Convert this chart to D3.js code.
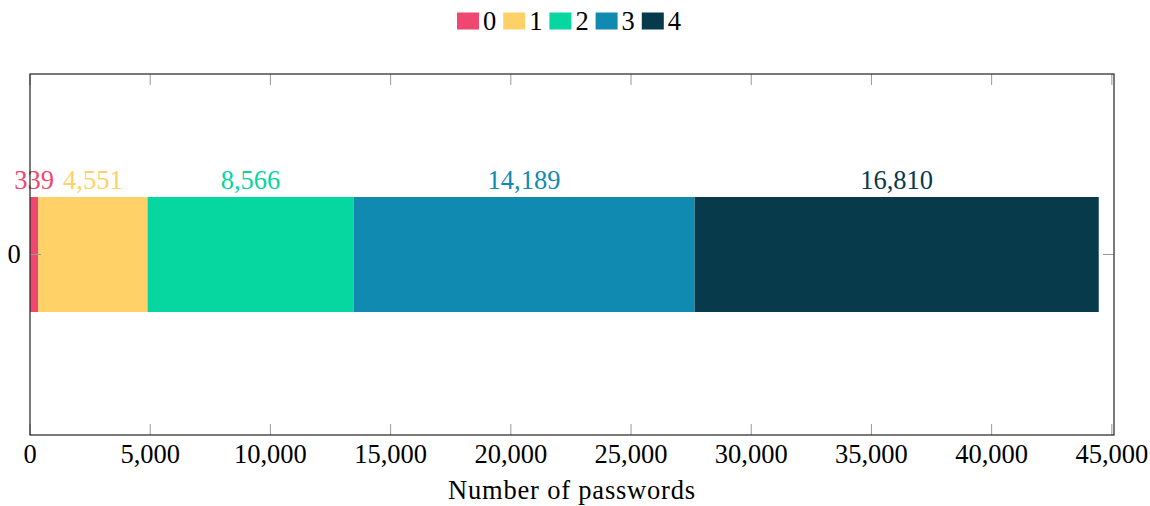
<!DOCTYPE html>
<html><head><meta charset="utf-8">
<script src="https://cdn.jsdelivr.net/npm/d3@7"></script>
<style>body{margin:0;background:#fff}svg{display:block}text{font-family:"Liberation Serif","Times New Roman",serif}</style>
</head><body><svg id="c" width="1150" height="506"></svg>
<script>
const categories = ["0"];
const seriesNames = ["0","1","2","3","4"];
const seriesValues = [339, 4551, 8566, 14189, 16810];
const colors = ["#ef476f","#ffd166","#06d6a0","#118ab2","#073b4c"];
const xTicks = [0,5000,10000,15000,20000,25000,30000,35000,40000,45000];
const xTitle = "Number of passwords";

const svg = d3.select("#c");
const L=30, R=1114, T=74, B=435;
const x = d3.scaleLinear().domain([0,45090]).range([L,R]);
const y = d3.scaleBand().domain(categories).range([T,B]).paddingInner(0).paddingOuter(0);
const fmt = d3.format(",");
const fs = 26.5;

let acc = 0;
const segs = seriesValues.map((v,i)=>{const s={x0:acc,x1:acc+v,v,i};acc+=v;return s;});
const bh = 115;
const yc = y(categories[0]) + y.bandwidth()/2;

svg.append("g").selectAll("rect").data(segs).join("rect")
  .attr("x",d=>x(d.x0)).attr("width",d=>x(d.x1)-x(d.x0))
  .attr("y",yc-bh/2).attr("height",bh).attr("fill",d=>colors[d.i]);

svg.append("g").selectAll("text").data(segs).join("text")
  .attr("x",d=>(x(d.x0)+x(d.x1))/2).attr("y",yc-bh/2-8)
  .attr("text-anchor","middle").attr("font-size",fs).attr("fill",d=>colors[d.i])
  .text(d=>fmt(d.v));

const tg = svg.append("g").attr("stroke","#999").attr("stroke-width",1);
xTicks.forEach(t=>{
  tg.append("line").attr("x1",x(t)).attr("x2",x(t)).attr("y1",B).attr("y2",B-11);
  tg.append("line").attr("x1",x(t)).attr("x2",x(t)).attr("y1",T).attr("y2",T+11);
});
tg.append("line").attr("x1",L).attr("x2",L+11).attr("y1",yc).attr("y2",yc);
tg.append("line").attr("x1",R).attr("x2",R-11).attr("y1",yc).attr("y2",yc);

svg.append("rect").attr("x",L).attr("y",T).attr("width",R-L).attr("height",B-T)
  .attr("fill","none").attr("stroke","#222").attr("stroke-width",1.2);

svg.append("g").selectAll("text").data(xTicks).join("text")
  .attr("x",d=>x(d)).attr("y",463).attr("text-anchor","middle").attr("font-size",fs)
  .attr("fill","#000").text(d=>fmt(d));
svg.append("text").attr("x",14).attr("y",yc+8).attr("text-anchor","middle").attr("font-size",fs)
  .text(categories[0]);

svg.append("text").attr("x",(L+R)/2).attr("y",499).attr("text-anchor","middle").attr("font-size",fs)
  .attr("letter-spacing","0.8px").text(xTitle);

const lg = svg.append("g");
seriesNames.forEach((n,i)=>{
  const lx = 457 + i*46.2;
  lg.append("rect").attr("x",lx).attr("y",12.5).attr("width",22).attr("height",17).attr("fill",colors[i]);
  lg.append("text").attr("x",lx+26).attr("y",29.5).attr("font-size",fs).text(n);
});
</script></body></html>
